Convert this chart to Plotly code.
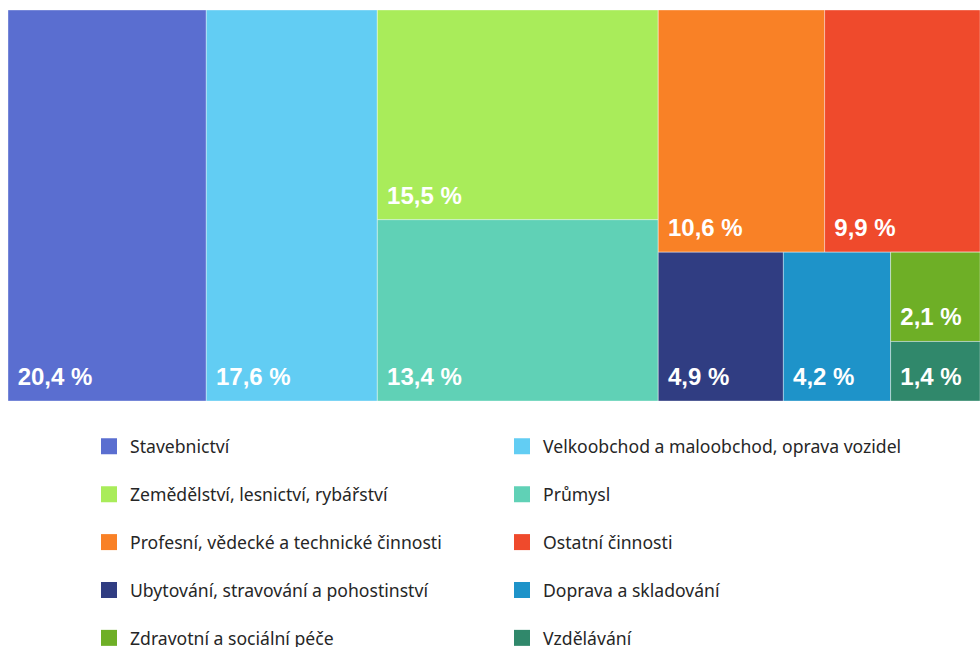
import plotly.graph_objects as go

# Data
categories = [
    "Stavebnictví",
    "Velkoobchod a maloobchod, oprava vozidel",
    "Zemědělství, lesnictví, rybářství",
    "Průmysl",
    "Profesní, vědecké a technické činnosti",
    "Ostatní činnosti",
    "Ubytování, stravování a pohostinství",
    "Doprava a skladování",
    "Zdravotní a sociální péče",
    "Vzdělávání",
]
shares = [20.4, 17.6, 15.5, 13.4, 10.6, 9.9, 4.9, 4.2, 2.1, 1.4]
colors = ["#5a6ed0", "#62cdf3", "#a9ec5a", "#60d1b6", "#f98126",
          "#ef4a2c", "#303d82", "#1e93c9", "#6eaf26", "#30886b"]
# grouping (layout groups of the tile arrangement)
leaf_parent = ["root", "root", "g3", "g3", "g4a", "g4a", "g4b", "g4b", "g4c", "g4c"]
group_ids = ["root", "g3", "g4", "g4a", "g4b", "g4c"]
group_parents = ["", "root", "root", "g4", "g4", "g4b"]

# Build treemap arrays (groups inserted so child order is preserved)
ids, labels, parents, values, mcolors, ttemps = [], [], [], [], [], []

def add_group(gid):
    i = group_ids.index(gid)
    ids.append(gid); labels.append(""); parents.append(group_parents[i])
    values.append(0); mcolors.append("rgba(0,0,0,0)"); ttemps.append(" ")

def add_leaf(k):
    ids.append(categories[k]); labels.append(categories[k]); parents.append(leaf_parent[k])
    values.append(shares[k]); mcolors.append(colors[k])
    ttemps.append("<span style='font-size:24px'>\u00a0%{value:.1f} %</span><br>\u00a0")

add_group("root")
add_leaf(0); add_leaf(1)
add_group("g3"); add_leaf(2); add_leaf(3)
add_group("g4"); add_group("g4a"); add_leaf(4); add_leaf(5)
add_group("g4b"); add_leaf(6); add_leaf(7)
add_group("g4c"); add_leaf(8); add_leaf(9)

fig = go.Figure()
fig.add_trace(go.Treemap(
    ids=ids, labels=labels, parents=parents, values=values,
    branchvalues="remainder", sort=False,
    tiling=dict(packing="slice-dice", pad=0),
    marker=dict(colors=mcolors, pad=dict(t=0, l=0, r=0, b=0),
                line=dict(width=1, color="rgba(255,255,255,0.35)")),
    pathbar=dict(visible=False),
    texttemplate=ttemps,
    textposition="bottom left",
    textfont=dict(family="Liberation Sans", size=8.5, color="white", weight="bold"),
    insidetextfont=dict(family="Liberation Sans", size=8.5, color="white", weight="bold"),
    hoverinfo="skip",
    domain=dict(x=[8 / 980, 1.0], y=[1 - 401 / 647, 1 - 10 / 647]),
))

# Legend entries (two columns)
for k, name in enumerate(categories):
    fig.add_trace(go.Scatter(
        x=[None], y=[None], mode="markers", name=name,
        marker=dict(symbol="square", size=16, color=colors[k]),
        legend="legend" if k % 2 == 0 else "legend2",
        legendgroup=name, showlegend=True, hoverinfo="skip",
    ))

leg_common = dict(
    orientation="v", xanchor="left", yanchor="top", itemwidth=32,
    font=dict(family="Noto Sans", size=17.6, color="#262626"),
    bgcolor="rgba(0,0,0,0)", tracegroupgap=22, itemclick=False, itemdoubleclick=False,
)
fig.update_layout(
    width=980, height=647,
    margin=dict(l=0, r=0, t=0, b=0, autoexpand=False),
    paper_bgcolor="white", plot_bgcolor="white",
    separators=", ",
    xaxis=dict(visible=False, domain=[0, 1]),
    yaxis=dict(visible=False, domain=[0, 0.3]),
    legend=dict(x=88 / 980, y=1 - 428.4 / 647, **leg_common),
    legend2=dict(x=501 / 980, y=1 - 428.4 / 647, **leg_common),
)

fig.write_html("out.html", config={"displayModeBar": False},
               post_script="document.body.style.margin='0';document.body.style.overflow='hidden';")
